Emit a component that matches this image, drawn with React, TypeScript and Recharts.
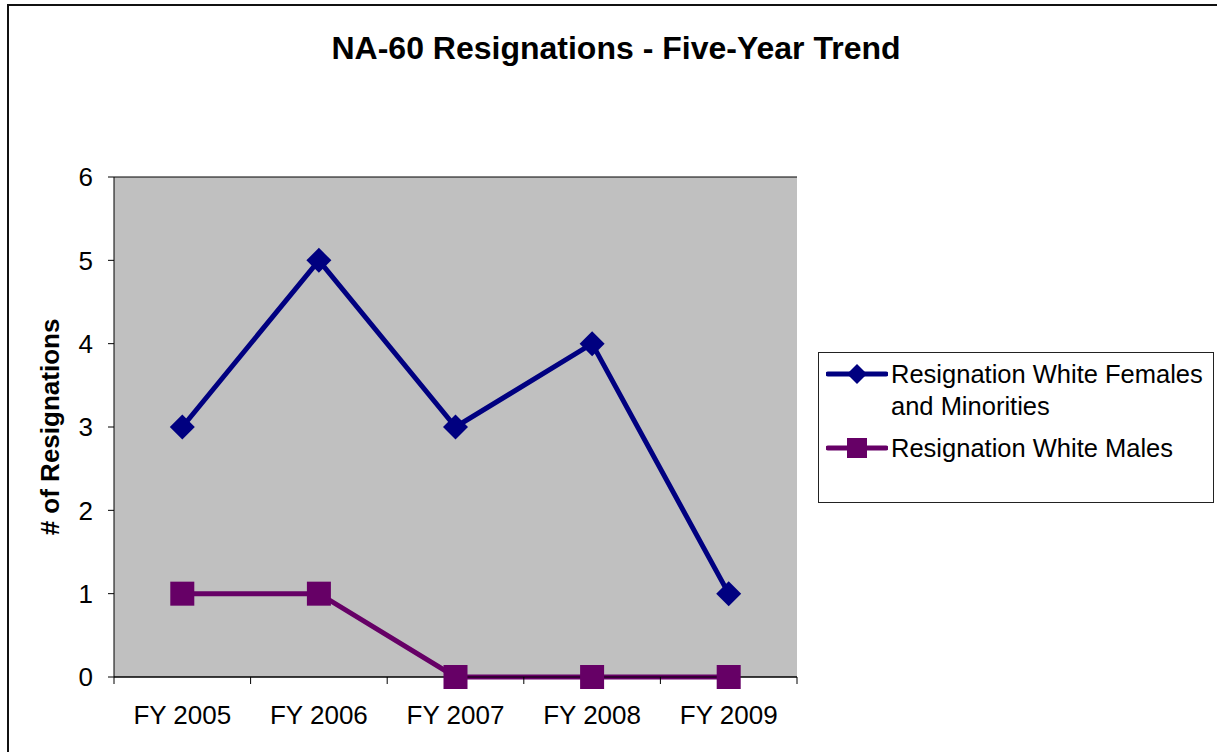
import React from "react";
import { LineChart, Line, XAxis, YAxis, CartesianGrid } from "recharts";

const years = ["FY 2005", "FY 2006", "FY 2007", "FY 2008", "FY 2009"];
const femalesMinorities = [3, 5, 3, 4, 1];
const whiteMales = [1, 1, 0, 0, 0];
const yTicks = [0, 1, 2, 3, 4, 5, 6];

const NAVY = "#000080";
const PLUM = "#660066";
const FONT = "'Liberation Sans', Arial, sans-serif";

// plot area is 683px wide, split into equal category bands
const PLOT_W = 683;
const HALF_BAND = PLOT_W / years.length / 2;

const data = years.map((year, i) => ({
  year,
  females: femalesMinorities[i],
  males: whiteMales[i],
}));

function Diamond({ cx, cy, r = 12.5, fill }: any) {
  return <path d={`M${cx},${cy - r}L${cx + r},${cy}L${cx},${cy + r}L${cx - r},${cy}Z`} fill={fill} />;
}

function Square({ cx, cy, s = 12, fill }: any) {
  return <rect x={cx - s} y={cy - s} width={s * 2} height={s * 2} fill={fill} />;
}

function XTick(props: any) {
  const { x, y, payload, index } = props;
  return (
    <g>
      <line x1={x - HALF_BAND} x2={x - HALF_BAND} y1={y} y2={y + 7} stroke="#000" />
      {index === years.length - 1 && <line x1={x + HALF_BAND} x2={x + HALF_BAND} y1={y} y2={y + 7} stroke="#000" />}
      <text x={x} y={y + 47} textAnchor="middle" fontSize={26} fontFamily={FONT} fill="#000">
        {payload.value}
      </text>
    </g>
  );
}

function YLabel({ viewBox }: any) {
  const cy = viewBox.y + viewBox.height / 2;
  return (
    <text
      x={50}
      y={cy}
      transform={`rotate(-90, 50, ${cy})`}
      textAnchor="middle"
      dominantBaseline="central"
      fontSize={26}
      fontWeight="bold"
      fontFamily={FONT}
      fill="#000"
    >
      # of Resignations
    </text>
  );
}

function LegendIcon({ color, square }: { color: string; square?: boolean }) {
  return (
    <svg width={62} height={26} style={{ flex: "none" }}>
      <line x1={2} x2={60} y1={13} y2={13} stroke={color} strokeWidth={5} strokeLinecap="round" />
      {square ? <Square cx={31} cy={13} s={10} fill={color} /> : <Diamond cx={31} cy={13} r={10} fill={color} />}
    </svg>
  );
}

export default function App() {
  return (
    <div style={{ position: "absolute", left: 0, top: 0, width: 1217, height: 752, overflow: "hidden", background: "#fff", fontFamily: FONT }}>
      <div style={{ position: "absolute", left: 7, top: 4, width: 1220, height: 800, border: "2px solid #111" }} />
      <div style={{ position: "absolute", left: 0, top: 30, width: 1232, textAlign: "center", fontSize: 32, fontWeight: "bold", color: "#000" }}>
        NA-60 Resignations - Five-Year Trend
      </div>

      <LineChart width={1217} height={752} data={data} margin={{ top: 177, right: 420, bottom: 0, left: 0 }} style={{ position: "absolute", left: 0, top: 0 }}>
        <CartesianGrid vertical={false} fill="#c0c0c0" stroke="#000" />
        <XAxis
          dataKey="year"
          height={75}
          padding={{ left: HALF_BAND, right: HALF_BAND }}
          tickLine={false}
          tickSize={0}
          tickMargin={0}
          axisLine={{ stroke: "#000" }}
          tick={<XTick />}
          interval={0}
        />
        <YAxis
          yAxisId="left"
          width={114}
          domain={[0, 6]}
          ticks={yTicks}
          tickSize={6}
          tickMargin={15}
          axisLine={{ stroke: "#000" }}
          tickLine={{ stroke: "#000" }}
          tick={{ fill: "#000", fontSize: 26, fontFamily: FONT }}
          label={<YLabel />}
        />
        <YAxis yAxisId="right" orientation="right" width={0} domain={[0, 6]} tick={false} tickLine={false} axisLine={{ stroke: "#808080" }} />
        <Line
          yAxisId="left"
          dataKey="females"
          stroke={NAVY}
          strokeWidth={5}
          isAnimationActive={false}
          dot={(p: any) => <Diamond key={`d${p.index}`} cx={p.cx} cy={p.cy} fill={NAVY} />}
        />
        <Line
          yAxisId="left"
          dataKey="males"
          stroke={PLUM}
          strokeWidth={5}
          isAnimationActive={false}
          dot={(p: any) => <Square key={`s${p.index}`} cx={p.cx} cy={p.cy} fill={PLUM} />}
        />
      </LineChart>

      <div style={{ position: "absolute", left: 818, top: 352, width: 394, height: 149, border: "1px solid #222", fontSize: 25.5, color: "#000" }}>
        <div style={{ position: "absolute", left: 7, top: 8, display: "flex", alignItems: "flex-start" }}>
          <LegendIcon color={NAVY} />
          <div style={{ marginLeft: 3, lineHeight: "32px", marginTop: -3 }}>
            Resignation White Females
            <br />
            and Minorities
          </div>
        </div>
        <div style={{ position: "absolute", left: 7, top: 82, display: "flex", alignItems: "flex-start" }}>
          <LegendIcon color={PLUM} square />
          <div style={{ marginLeft: 3, lineHeight: "32px", marginTop: -3 }}>Resignation White Males</div>
        </div>
      </div>
    </div>
  );
}
